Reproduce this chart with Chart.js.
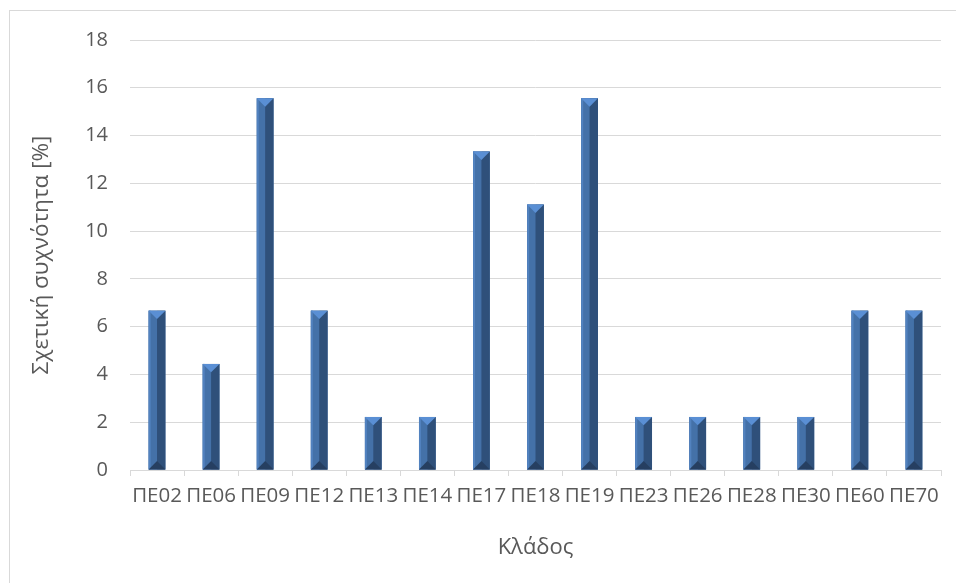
<!DOCTYPE html>
<html>
<head>
<meta charset="utf-8">
<script src="https://cdn.jsdelivr.net/npm/chart.js@4/dist/chart.umd.min.js"></script>
<style>
  html, body { margin: 0; padding: 0; background: #ffffff; }
  canvas { display: block; }
</style>
</head>
<body>
<canvas id="chart" width="956" height="583"></canvas>
<script>
// Relative frequency (%) of teachers per specialty
const categories = ['ΠΕ02', 'ΠΕ06', 'ΠΕ09', 'ΠΕ12', 'ΠΕ13', 'ΠΕ14', 'ΠΕ17', 'ΠΕ18',
                    'ΠΕ19', 'ΠΕ23', 'ΠΕ26', 'ΠΕ28', 'ΠΕ30', 'ΠΕ60', 'ΠΕ70'];
const relativeFrequency = [6.67, 4.44, 15.56, 6.67, 2.22, 2.22, 13.33, 11.11,
                           15.56, 2.22, 2.22, 2.22, 2.22, 6.67, 6.67];
const yTicks = [0, 2, 4, 6, 8, 10, 12, 14, 16, 18];

const xTitle = 'Κλάδος';
const yTitle = 'Σχετική συχνότητα [%]';

const TEXT = '#595959';
const LINE = '#d9d9d9';
const FONT = "'Open Sans', 'Noto Sans', sans-serif";

// Outer frame around the chart
const framePlugin = {
  id: 'frame',
  beforeDraw(chart) {
    const ctx = chart.ctx;
    ctx.save();
    ctx.fillStyle = '#ffffff';
    ctx.fillRect(0, 0, chart.width, chart.height);
    ctx.strokeStyle = LINE;
    ctx.lineWidth = 1;
    ctx.strokeRect(9.5, 10.5, chart.width + 50, chart.height + 50);
    ctx.restore();
  }
};

// Slanted bevel shading on each bar (light left face, dark right face, end caps)
const bevelPlugin = {
  id: 'bevel',
  afterDatasetsDraw(chart) {
    const ctx = chart.ctx;
    const meta = chart.getDatasetMeta(0);
    ctx.save();
    meta.data.forEach(bar => {
      const w = bar.width;
      const l = bar.x - w / 2, r = bar.x + w / 2, cx = bar.x;
      const top = bar.y, bot = bar.base;
      const d = Math.min(w / 2, (bot - top) / 2);
      // left face
      ctx.fillStyle = '#4471a8';
      ctx.fillRect(l, top, cx - l, bot - top);
      // thin highlight on the left edge
      ctx.fillStyle = '#5282bf';
      ctx.fillRect(l, top, 2, bot - top);
      // right face
      ctx.fillStyle = '#2f507a';
      ctx.fillRect(cx, top, r - cx, bot - top);
      // top cap
      ctx.fillStyle = '#5a8fd4';
      ctx.beginPath();
      ctx.moveTo(l, top); ctx.lineTo(r, top); ctx.lineTo(cx, top + d); ctx.closePath();
      ctx.fill();
      // bottom cap
      ctx.fillStyle = '#263f61';
      ctx.beginPath();
      ctx.moveTo(l, bot); ctx.lineTo(r, bot); ctx.lineTo(cx, bot - d); ctx.closePath();
      ctx.fill();
    });
    ctx.restore();
  }
};

new Chart(document.getElementById('chart'), {
  type: 'bar',
  data: {
    labels: categories,
    datasets: [{
      data: relativeFrequency,
      backgroundColor: '#4471a8',
      borderWidth: 0,
      barPercentage: 0.62,
      categoryPercentage: 0.5
    }]
  },
  options: {
    responsive: false,
    animation: false,
    devicePixelRatio: 1,
    layout: { padding: { top: 40, right: 15, left: 0, bottom: 0 } },
    plugins: {
      legend: { display: false },
      tooltip: { enabled: false }
    },
    scales: {
      x: {
        offset: true,
        afterFit(scale) { scale.height = 113; },
        grid: {
          display: true,
          offset: true,
          drawOnChartArea: false,
          drawTicks: true,
          tickLength: 6,
          color: LINE
        },
        border: { display: true, color: LINE, width: 1 },
        ticks: {
          color: TEXT,
          font: { family: FONT, size: 20.5 },
          autoSkip: false,
          maxRotation: 0,
          minRotation: 0,
          padding: 8
        },
        title: {
          display: true,
          text: xTitle,
          color: TEXT,
          font: { family: FONT, size: 22 },
          padding: { top: 0, bottom: 22 }
        }
      },
      y: {
        min: 0,
        max: 18,
        afterFit(scale) { scale.width = 130; },
        afterBuildTicks(scale) { scale.ticks = yTicks.map(v => ({ value: v })); },
        grid: { color: LINE, lineWidth: 1, drawTicks: false },
        border: { display: false },
        ticks: {
          color: TEXT,
          font: { family: FONT, size: 20 },
          padding: 22
        },
        title: {
          display: true,
          text: yTitle,
          color: TEXT,
          font: { family: FONT, size: 22.5 },
          padding: { top: 28, bottom: 0 }
        }
      }
    }
  },
  plugins: [framePlugin, bevelPlugin]
});
</script>
</body>
</html>
